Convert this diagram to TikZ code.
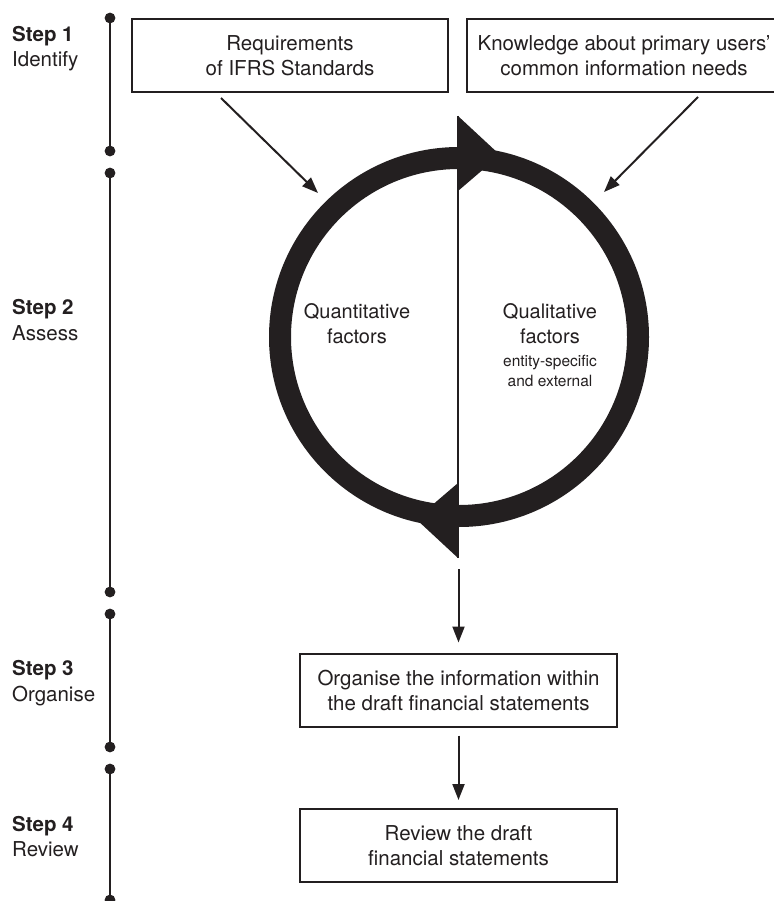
\documentclass[tikz,border=0pt]{standalone}
\usepackage{fontspec}
\setmainfont{TeX Gyre Heros}
\usetikzlibrary{arrows.meta,calc}
\definecolor{ink}{HTML}{231F20}
\begin{document}
\begin{tikzpicture}[x=1pt,y=-1pt,
  box/.style={draw=ink,line width=2pt,minimum height=73pt,align=center,text=ink,
    font=\fontsize{20.5}{25}\selectfont,inner sep=0pt},
  arr/.style={draw=ink,line width=2pt,-{Triangle[length=16pt,width=12pt]}},
  stepname/.style={anchor=base west,text=ink,inner sep=0pt,font=\fontsize{20.5}{24}\selectfont\bfseries},
  stepverb/.style={anchor=base west,text=ink,inner sep=0pt,font=\fontsize{20.5}{24}\selectfont},
  inner/.style={anchor=base,text=ink,inner sep=0pt,font=\fontsize{20}{24}\selectfont},
  small/.style={anchor=base,text=ink,inner sep=0pt,font=\fontsize{15.5}{19}\selectfont},
  tline/.style={draw=ink,line width=2pt},
  ring/.style={draw=ink,line width=22pt}]
\useasboundingbox (0,0) rectangle (773,901);

% timeline
\foreach \a/\b in {18/151,173/592,614/747,769/900}{
  \draw[tline] (110,\a) -- (110,\b);
  \fill[ink] (110,\a) circle (5.4pt);
  \fill[ink] (110,\b) circle (5.4pt);
}

% step labels
\node[stepname] (s1) at (12,42) {Step 1};
\node[stepverb] (s1b) at (12,66.5) {Identify};
\node[stepname] (s2) at (12,314.5) {Step 2};
\node[stepverb] (s2b) at (12,340.5) {Assess};
\node[stepname] (s3) at (12,675) {Step 3};
\node[stepverb] (s3b) at (12,701.5) {Organise};
\node[stepname] (s4) at (12,831) {Step 4};
\node[stepverb] (s4b) at (12,856.5) {Review};

% top boxes
\node[box,minimum width=316pt] (req) at (290,55.5) {Requirements\\of IFRS Standards};
\node[box,minimum width=314pt] (know) at (624,55.5) {Knowledge about primary users'\\common information needs};

% cycle
\draw[ring] (459,337) circle[radius=179pt];
\draw[ink,line width=2.5pt] (458,116) -- (458,558);
\fill[ink] (458,116) -- (458,191) -- (500,155) -- cycle;
\fill[ink] (458,483) -- (458,558) -- (416,519) -- cycle;

\node[inner] (qn1) at (357,318) {Quantitative};
\node[inner] (qn2) at (357,343) {factors};
\node[inner] (ql1) at (550,318) {Qualitative};
\node[inner] (ql2) at (550,343) {factors};
\node[small] (ql3) at (550,366) {entity-specific};
\node[small] (ql4) at (550,386) {and external};

% arrows into cycle
\coordinate (a1s) at (221,98);
\coordinate (a1e) at (318,193);
\coordinate (a2s) at (698,97);
\coordinate (a2e) at (604,192);
\draw[arr] (a1s) -- (a1e);
\draw[arr] (a2s) -- (a2e);

% lower boxes
\node[box,minimum width=317pt] (org) at (458.5,690) {Organise the information within\\the draft financial statements};
\node[box,minimum width=317pt] (rev) at (458.5,845.5) {Review the draft\\financial statements};

\coordinate (c1) at (458.5,569);
\draw[arr] (c1) -- ($(org.north)+(0,-10)$);
\draw[arr] ($(org.south)+(0,8)$) -- ($(rev.north)+(0,-8)$);
\end{tikzpicture}
\end{document}
